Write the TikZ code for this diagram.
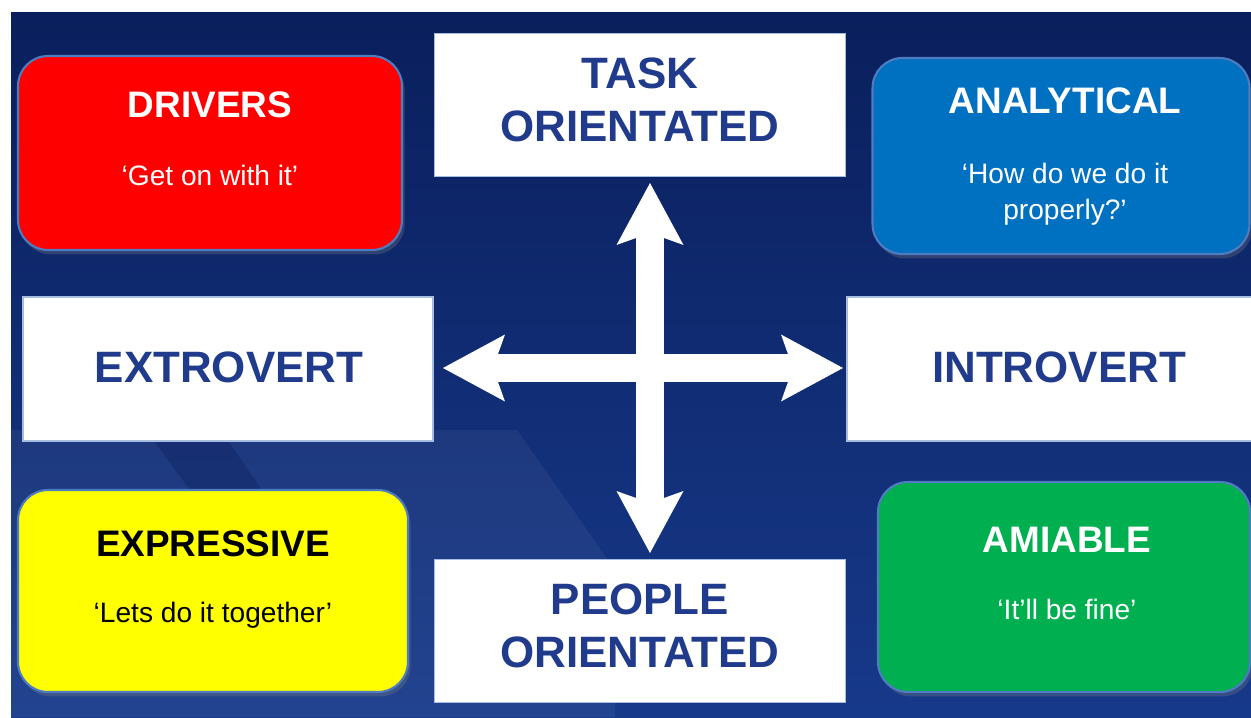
\documentclass[tikz,border=0pt]{standalone}
\usepackage{fontspec}
\setmainfont{Liberation Sans}
\usetikzlibrary{arrows.meta,shadows}

\definecolor{navytop}{HTML}{0A1F5C}
\definecolor{navybottom}{HTML}{17398A}
\definecolor{labelblue}{HTML}{213B8C}
\definecolor{edgeblue}{HTML}{4E7CC0}
\definecolor{driverred}{HTML}{FF0000}
\definecolor{analyticblue}{HTML}{0070C0}
\definecolor{expressyellow}{HTML}{FFFF00}
\definecolor{amiablegreen}{HTML}{00B050}

\tikzset{
  stylebox/.style={draw=edgeblue, line width=1.2pt, rounded corners=0.6cm,
                   drop shadow={shadow xshift=1.5pt, shadow yshift=-2.5pt, opacity=0.3}},
  axisbox/.style={fill=white, draw=edgeblue!50, line width=0.8pt},
  boxtitle/.style={font=\bfseries\fontsize{21}{25}\selectfont, anchor=base, inner sep=0pt},
  boxquote/.style={font=\fontsize{16}{20.5}\selectfont, anchor=base, inner sep=0pt, align=center},
  axislabel/.style={font=\bfseries\fontsize{25}{30.7}\selectfont, text=labelblue,
                    align=center, inner sep=0pt},
  crosshead/.tip={Stealth[length=1.24cm, width=1.34cm, inset=0.24cm, line width=0pt]},
  cross/.style={draw=white, line width=0.55cm, crosshead-crosshead}
}

\begin{document}
\begin{tikzpicture}[x=0.02cm, y=-0.02cm]
  \useasboundingbox (0,0) rectangle (1251,717);

  % backdrop
  \fill[white] (0,0) rectangle (1251,717);
  \shade[top color=navytop, bottom color=navybottom] (11,12) rectangle (1251,717);
  \fill[white, opacity=0.05] (11,430) -- (517,430) -- (615,570) -- (615,717) -- (11,717) -- cycle;
  \fill[navytop, opacity=0.35] (154,441) -- (228,441) -- (262,490) -- (190,490) -- cycle;

  % the four styles
  \node[stylebox, fill=driverred, minimum width=7.68cm, minimum height=3.88cm] (drivers) at (210,153) {};
  \node[boxtitle, text=white] (driverstitle) at (210,117) {DRIVERS};
  \node[boxquote, text=white] (driversquote) at (210,185) {‘Get on with it’};

  \node[stylebox, fill=analyticblue, minimum width=7.54cm, minimum height=3.92cm] (analytical) at (1061,156) {};
  \node[boxtitle, text=white] (analyticaltitle) at (1065,113) {ANALYTICAL};
  \node[boxquote, text=white, anchor=north] (analyticalquote) at (1065,163) {‘How do we do it\\properly?’};

  \node[stylebox, fill=expressyellow, minimum width=7.8cm, minimum height=4.04cm] (expressive) at (213,591) {};
  \node[boxtitle, text=black] (expressivetitle) at (213,556) {EXPRESSIVE};
  \node[boxquote, text=black] (expressivequote) at (213,622) {‘Lets do it together’};

  \node[stylebox, fill=amiablegreen, minimum width=7.44cm, minimum height=4.2cm] (amiable) at (1064,587) {};
  \node[boxtitle, text=white] (amiabletitle) at (1067,552) {AMIABLE};
  \node[boxquote, text=white] (amiablequote) at (1067,619) {‘It’ll be fine’};

  % the two axes
  \node[axisbox, minimum width=8.22cm, minimum height=2.86cm] (task) at (640,105) {};
  \node[axislabel, anchor=north] (tasklabel) at (640,57) {TASK\\ORIENTATED};

  \node[axisbox, minimum width=8.22cm, minimum height=2.86cm] (people) at (640,631) {};
  \node[axislabel, anchor=north] (peoplelabel) at (640,583) {PEOPLE\\ORIENTATED};

  \node[axisbox, minimum width=8.2cm, minimum height=2.88cm] (extro) at (228,369) {};
  \node[axislabel, anchor=base] (extrolabel) at (229,382) {EXTROVERT};

  \node[axisbox, minimum width=8.36cm, minimum height=2.88cm] (intro) at (1056,369) {};
  \node[axislabel, anchor=base] (introlabel) at (1059,382) {INTROVERT};

  % arrows between the axis boxes
  \coordinate (up) at (650,183);
  \coordinate (down) at (650,553);
  \coordinate (left) at (443,368);
  \coordinate (right) at (843,368);
  \draw[cross] (up) -- (down);
  \draw[cross] (left) -- (right);
\end{tikzpicture}
\end{document}
